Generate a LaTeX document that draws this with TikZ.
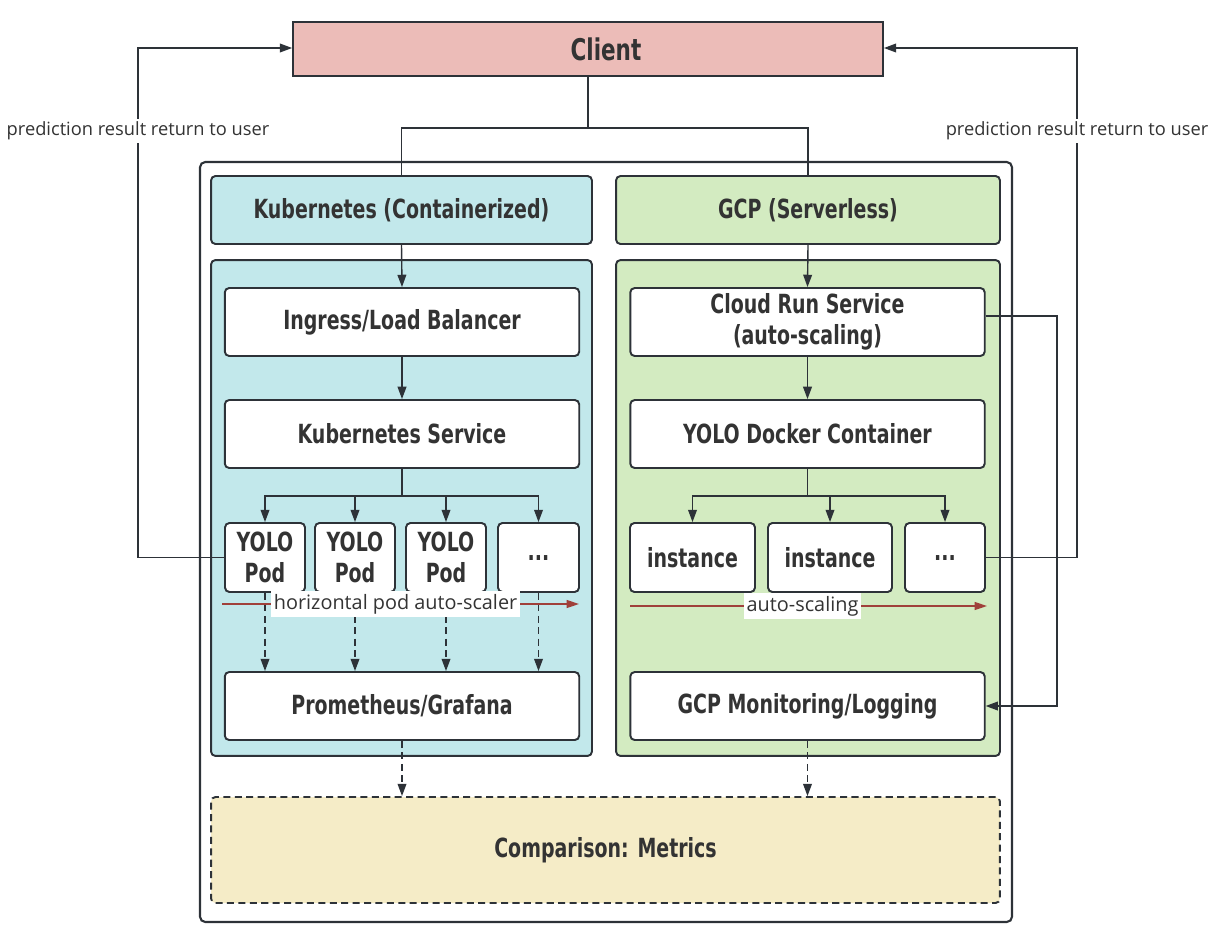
\documentclass[tikz,border=0pt]{standalone}
\usepackage{fontspec}
\setmainfont{Open Sans}
\newfontfamily\hd[FakeStretch=0.8]{DejaVu Sans Condensed Bold}
\usetikzlibrary{arrows.meta}
\definecolor{clientfill}{HTML}{ECBCB8}
\definecolor{kubefill}{HTML}{C2E8EB}
\definecolor{gcpfill}{HTML}{D3EBC1}
\definecolor{cmpfill}{HTML}{F5ECC7}
\definecolor{linec}{HTML}{2D3238}
\definecolor{txtc}{HTML}{333333}
\definecolor{scalered}{HTML}{A0403A}
\begin{document}
\begin{tikzpicture}[x=0.02cm, y=-0.02cm,
  box/.style={draw=linec, line width=1.1pt, rounded corners=2.5pt, fill=white,
    text=txtc, font=\hd\fontsize{15}{17.5}\selectfont, align=center, inner sep=0pt},
  panel/.style={box, minimum height=9.92cm},
  head/.style={box, minimum height=1.36cm},
  wide/.style={box, minimum width=7.09cm, minimum height=1.36cm},
  small/.style={box, minimum height=1.38cm},
  conn/.style={draw=linec, line width=0.8pt},
  arr/.style={conn, -{Triangle[length=7pt,width=5pt]}},
  darr/.style={arr, dash pattern=on 4pt off 2.5pt},
  scalearr/.style={draw=scalered, line width=0.8pt, -{Triangle[length=7pt,width=4.5pt]}},
  lbl/.style={fill=white, text=txtc, inner sep=1.5pt, font=\fontsize{10.4}{12}\selectfont}]
  \useasboundingbox (0,0) rectangle (1222,950);

  % 客户端与外框
  \node[box, fill=clientfill, rounded corners=0pt, minimum width=11.8cm, minimum height=1.08cm,
    font=\hd\fontsize{17}{20}\selectfont] (client) at (588,49) {\hspace*{0.72cm}Client};
  \draw[draw=linec, line width=1.2pt, rounded corners=3pt] (200,162) rectangle (1012,922);

  % 两个平台
  \node[head, fill=kubefill, minimum width=7.62cm] (kubehead) at (401.5,210) {Kubernetes (Containerized)};
  \node[head, fill=gcpfill, minimum width=7.68cm] (gcphead) at (808,210) {GCP (Serverless)};
  \node[panel, fill=kubefill, minimum width=7.62cm] (kubepanel) at (401.5,508) {};
  \node[panel, fill=gcpfill, minimum width=7.68cm] (gcppanel) at (808,508) {};

  % Kubernetes 部分
  \node[wide] (ingress) at (402,322) {Ingress/Load Balancer};
  \node[wide] (kubesvc) at (402,434) {Kubernetes Service};
  \node[small, minimum width=1.6cm] (pod1) at (265,557.5) {YOLO\\Pod};
  \node[small, minimum width=1.6cm] (pod2) at (355,557.5) {YOLO\\Pod};
  \node[small, minimum width=1.6cm] (pod3) at (446,557.5) {YOLO\\Pod};
  \node[small, minimum width=1.62cm] (pod4) at (538.5,557.5) {...};
  \node[wide] (prom) at (402,706) {Prometheus/Grafana};

  % GCP 部分
  \node[wide] (cloudrun) at (807.5,322) {Cloud Run Service\\(auto-scaling)};
  \node[wide] (docker) at (807.5,434) {YOLO Docker Container};
  \node[small, minimum width=2.5cm] (inst1) at (692.5,557.5) {instance};
  \node[small, minimum width=2.48cm] (inst2) at (830,557.5) {instance};
  \node[small, minimum width=1.6cm] (inst3) at (945,557.5) {...};
  \node[wide] (monitor) at (807.5,706) {GCP Monitoring/Logging};

  % 对比
  \node[box, fill=cmpfill, dash pattern=on 4pt off 2.5pt, minimum width=15.78cm, minimum height=2.12cm] (compare) at (605.5,850) {Comparison: Metrics};

  % 连线
  \draw[conn] (client.south) -- (588,128) -| (kubehead.north);
  \draw[conn] (588,128) -| (gcphead.north);
  \draw[arr] (kubehead.south) -- (ingress.north);
  \draw[arr] (gcphead.south) -- (cloudrun.north);
  \draw[arr] (ingress.south) -- (kubesvc.north);
  \draw[arr] (cloudrun.south) -- (docker.north);
  \foreach \p in {pod1,pod2,pod3,pod4} {
    \draw[arr] (kubesvc.south) -- ++(0,27) -| (\p.north);
    \draw[darr] (\p.south) -- (\p.south |- prom.north);
  }
  \foreach \p in {inst1,inst2,inst3}
    \draw[arr] (docker.south) -- ++(0,27) -| (\p.north);
  \draw[darr] (prom.south) -- (compare.north -| prom.south);
  \draw[darr] (monitor.south) -- (compare.north -| monitor.south);

  % 扩缩容箭头
  \coordinate (hpaS) at (222,604);
  \coordinate (hpaE) at (579,604);
  \coordinate (gasS) at (630,606);
  \coordinate (gasE) at (987,606);
  \draw[scalearr] (hpaS) -- node[lbl, font=\fontsize{11.3}{13}\selectfont, xshift=-2.8] {horizontal pod auto-scaler} (hpaE);
  \draw[scalearr] (gasS) -- node[lbl, font=\fontsize{11.3}{13}\selectfont, xshift=-3.4] {auto-scaling} (gasE);

  % 返回结果
  \draw[arr] (pod1.west) -- (138,557.5) -- node[lbl, pos=0.837] {prediction result return to user} (138,48) -- (client.west |- 0,48);
  \draw[arr] (inst3.east) -- (1077,557.5) -- node[lbl, pos=0.837] {prediction result return to user} (1077,48) -- (client.east |- 0,48);
  \draw[arr] (cloudrun.east |- 0,316) -- (1057,316) |- (monitor.east);
\end{tikzpicture}
\end{document}
